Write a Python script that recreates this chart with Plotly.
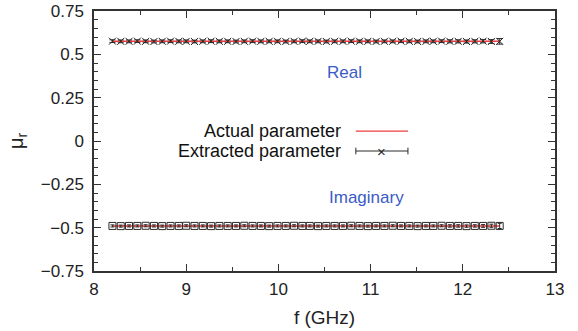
import plotly.graph_objects as go

freq = [8.20, 8.29, 8.38, 8.47, 8.56, 8.65, 8.74, 8.83, 8.92, 9.00, 9.09, 9.18,
        9.27, 9.36, 9.45, 9.54, 9.63, 9.72, 9.81, 9.90, 9.99, 10.08, 10.17, 10.26,
        10.34, 10.43, 10.52, 10.61, 10.70, 10.79, 10.88, 10.97, 11.06, 11.15, 11.24, 11.33,
        11.42, 11.51, 11.60, 11.68, 11.77, 11.86, 11.95, 12.04, 12.13, 12.22, 12.31, 12.40]

ext_real = [0.576, 0.575, 0.575, 0.576, 0.575, 0.574, 0.575, 0.576, 0.575, 0.575, 0.574, 0.575,
            0.576, 0.575, 0.575, 0.574, 0.575, 0.576, 0.575, 0.575, 0.575, 0.574, 0.575, 0.576,
            0.575, 0.575, 0.574, 0.575, 0.575, 0.576, 0.575, 0.575, 0.574, 0.575, 0.575, 0.576,
            0.575, 0.574, 0.575, 0.575, 0.576, 0.575, 0.575, 0.574, 0.575, 0.576, 0.574, 0.575]
err_real = [0.008, 0.008, 0.008, 0.008, 0.008, 0.008, 0.008, 0.008, 0.008, 0.008, 0.008, 0.008,
            0.008, 0.008, 0.008, 0.008, 0.008, 0.008, 0.008, 0.008, 0.008, 0.008, 0.008, 0.008,
            0.008, 0.008, 0.008, 0.008, 0.008, 0.008, 0.008, 0.008, 0.008, 0.008, 0.008, 0.008,
            0.008, 0.008, 0.008, 0.008, 0.008, 0.009, 0.009, 0.009, 0.009, 0.010, 0.011, 0.016]

ext_imag = [-0.490, -0.491, -0.490, -0.490, -0.489, -0.490, -0.491, -0.490, -0.490, -0.489, -0.490, -0.490,
            -0.491, -0.490, -0.490, -0.490, -0.489, -0.490, -0.490, -0.491, -0.490, -0.490, -0.489, -0.490,
            -0.490, -0.491, -0.490, -0.490, -0.490, -0.489, -0.490, -0.491, -0.490, -0.490, -0.489, -0.490,
            -0.490, -0.491, -0.490, -0.490, -0.489, -0.490, -0.490, -0.491, -0.490, -0.490, -0.489, -0.490]
err_imag = [0.006, 0.006, 0.006, 0.006, 0.006, 0.006, 0.006, 0.006, 0.006, 0.006, 0.006, 0.006,
            0.006, 0.006, 0.006, 0.006, 0.006, 0.006, 0.006, 0.006, 0.006, 0.006, 0.006, 0.006,
            0.006, 0.006, 0.006, 0.006, 0.006, 0.006, 0.006, 0.006, 0.006, 0.006, 0.006, 0.006,
            0.006, 0.006, 0.006, 0.006, 0.006, 0.007, 0.007, 0.007, 0.007, 0.008, 0.009, 0.015]

actual_freq = [8.20, 12.40]
actual_real = [0.575, 0.575]
actual_imag = [-0.490, -0.490]

legend_labels = ["Actual parameter", "Extracted parameter"]
part_labels = ["Real", "Imaginary"]

RED = "#f03c3c"
DARK = "#2a2a2a"
BLUE = "#3a5bc7"
FONT = "Liberation Sans, Arial, sans-serif"

fig = go.Figure()

for yv in (actual_real, actual_imag):
    fig.add_trace(go.Scatter(x=actual_freq, y=yv, mode="lines",
                             line=dict(color=RED, width=1.5), showlegend=False,
                             hoverinfo="skip"))

fig.add_trace(go.Scatter(
    x=freq, y=ext_real, mode="markers",
    marker=dict(symbol="x-thin-open", size=7, color=DARK, line=dict(color=DARK, width=1)),
    error_y=dict(type="data", array=err_real, visible=True, color=DARK, thickness=1, width=3),
    showlegend=False))

fig.add_trace(go.Scatter(
    x=freq, y=ext_imag, mode="markers",
    marker=dict(symbol="square-open", size=7, color=DARK, line=dict(color=DARK, width=1)),
    error_y=dict(type="data", array=err_imag, visible=True, color=DARK, thickness=1, width=2),
    showlegend=False))

# gnuplot-style key: text right-aligned, sample to the right
legend_y = [0.538, 0.4615]
LX_TEXT = 0.541
LX0, LX1 = 0.568, 0.681
for ly, lab in zip(legend_y, legend_labels):
    fig.add_annotation(xref="paper", yref="paper", x=LX_TEXT, y=ly, text=lab,
                       showarrow=False, xanchor="right", yanchor="middle",
                       font=dict(family=FONT, size=18, color="#111111"))
fig.add_shape(type="line", xref="paper", yref="paper", x0=LX0, x1=LX1,
              y0=legend_y[0], y1=legend_y[0], line=dict(color=RED, width=1.3))
fig.add_shape(type="line", xref="paper", yref="paper", x0=LX0, x1=LX1,
              y0=legend_y[1], y1=legend_y[1], line=dict(color=DARK, width=1))
for xe in (LX0, LX1):
    fig.add_shape(type="line", xref="paper", yref="paper", x0=xe, x1=xe,
                  y0=legend_y[1] - 0.013, y1=legend_y[1] + 0.013, line=dict(color=DARK, width=1))
fig.add_annotation(xref="paper", yref="paper", x=(LX0 + LX1) / 2, y=legend_y[1], text="×",
                   showarrow=False, xanchor="center", yanchor="middle",
                   font=dict(family=FONT, size=15, color=DARK))

fig.add_annotation(x=10.72, y=0.393, text=part_labels[0], showarrow=False,
                   font=dict(family=FONT, size=17, color=BLUE))
fig.add_annotation(x=10.96, y=-0.324, text=part_labels[1], showarrow=False,
                   font=dict(family=FONT, size=17, color=BLUE))

axis_common = dict(showgrid=False, zeroline=False, showline=True, linecolor="#333333",
                   linewidth=1.5, mirror="allticks", ticks="inside", ticklen=7,
                   tickwidth=1, tickcolor="#333333", automargin=False,
                   tickfont=dict(family=FONT, size=17, color="#222222"))

fig.update_xaxes(range=[8, 13], dtick=1, tick0=8, ticklabelstandoff=2,
                 title=dict(text="f (GHz)", font=dict(family=FONT, size=19, color="#222222"),
                            standoff=13),
                 minor=dict(dtick=0.5, ticks="inside", ticklen=4, tickcolor="#333333"),
                 **axis_common)
fig.update_yaxes(range=[-0.75, 0.75], dtick=0.25, tick0=0, ticklabelstandoff=5,
                 title=dict(text="μ<sub>r</sub>", font=dict(family=FONT, size=20, color="#222222"),
                            standoff=12),
                 minor=dict(dtick=0.05, ticks="inside", ticklen=4, tickcolor="#333333"),
                 **axis_common)

fig.update_layout(width=578, height=331, margin=dict(l=94, r=23, t=11, b=60),
                  paper_bgcolor="white", plot_bgcolor="white", showlegend=False)

fig.write_html("out.html")
